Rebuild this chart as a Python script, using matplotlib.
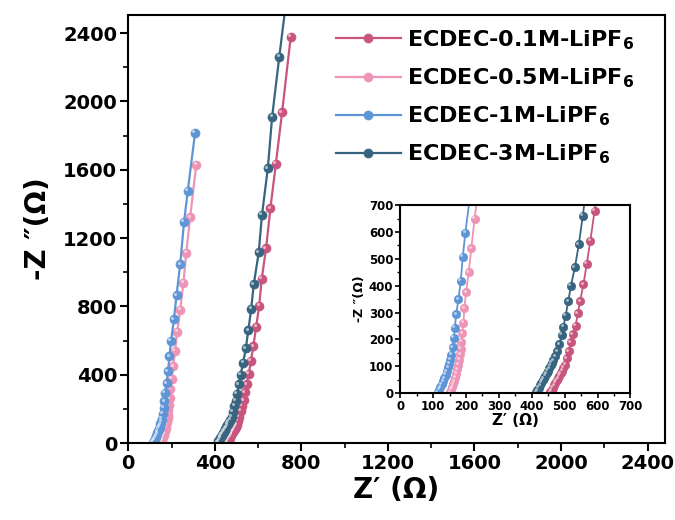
import numpy as np
import matplotlib
matplotlib.use("Agg")
import matplotlib.pyplot as plt
from matplotlib.ticker import MultipleLocator
from matplotlib.transforms import offset_copy

plt.rcParams['font.family'] = ['DejaVu Sans']
plt.rcParams['font.weight'] = 'bold'
plt.rcParams['mathtext.fontset'] = 'custom'
plt.rcParams['mathtext.rm'] = 'DejaVu Sans:bold'
plt.rcParams['mathtext.bf'] = 'DejaVu Sans:bold'

labels = ["ECDEC-0.1M-LiPF$_6$", "ECDEC-0.5M-LiPF$_6$",
          "ECDEC-1M-LiPF$_6$", "ECDEC-3M-LiPF$_6$"]
colors = ["#C8557D", "#EE94B6", "#5E95D6", "#37647F"]

# Z' (ohm), -Z'' (ohm)
x_01 = [456, 460, 464, 468, 472, 476, 480, 484, 488, 492, 496, 502, 507, 512, 519,
        525, 533, 540, 547, 557, 567, 578, 591, 605, 617, 637, 657, 682, 711, 751]
y_01 = [3, 11, 20, 29, 38, 47, 56, 65, 74, 84, 94, 105, 130, 155, 190,
        219, 250, 297, 343, 405, 481, 567, 679, 802, 962, 1140, 1374, 1633, 1936, 2379]

x_05 = [152, 155, 158, 161, 164, 167, 170, 173, 176, 179, 182, 184, 186, 188, 192,
        195, 200, 208, 216, 226, 240, 255, 268, 286, 314]
y_05 = [3, 12, 22, 33, 45, 58, 72, 88, 105, 124, 145, 165, 192, 223, 262,
        316, 375, 450, 539, 650, 778, 939, 1114, 1321, 1627]

x_1 = [114, 118, 122, 126, 130, 134, 138, 142, 146, 149, 152, 155, 159, 163, 166,
       170, 177, 184, 190, 198, 211, 223, 240, 258, 275, 309]
y_1 = [3, 12, 22, 33, 44, 56, 68, 82, 96, 110, 125, 142, 170, 207, 244,
       293, 350, 419, 507, 598, 724, 864, 1046, 1296, 1475, 1817]

x_3 = [413, 417, 421, 425, 429, 433, 437, 441, 445, 449, 453, 457, 461, 465, 471,
       478, 484, 491, 496, 503, 511, 519, 531, 543, 555, 568, 580, 603, 618, 645,
       665, 698, 735]
y_3 = [3, 11, 20, 29, 38, 47, 56, 65, 74, 83, 93, 103, 113, 123, 137,
       155, 182, 217, 248, 289, 343, 400, 468, 554, 660, 784, 929, 1116, 1335, 1608,
       1910, 2261, 2640]

series = [(x_01, y_01), (x_05, y_05), (x_1, y_1), (x_3, y_3)]

fig = plt.figure(figsize=(6.75, 5.2), dpi=100)
ax = fig.add_axes([0.19, 0.148, 0.795, 0.823])
ins = fig.add_axes([0.593, 0.244, 0.341, 0.3615])


def draw(a, ms, lw):
    hl = offset_copy(a.transData, fig=fig, x=-ms * 0.18, y=ms * 0.18, units='points')
    for (xs, ys), c, lab in zip(series, colors, labels):
        a.plot(xs, ys, '-o', color=c, lw=lw, ms=ms, mfc=c, mec=c, mew=0.5, label=lab)
        a.plot(xs, ys, 'o', color='white', ms=ms * 0.35, mew=0, alpha=0.55,
               transform=hl)


draw(ax, 6.5, 1.6)
draw(ins, 6, 1.3)

for a in (ax, ins):
    for s in a.spines.values():
        s.set_linewidth(1.5)

ax.set_xlim(0, 2480)
ax.set_ylim(0, 2505)
ax.xaxis.set_major_locator(MultipleLocator(400))
ax.xaxis.set_minor_locator(MultipleLocator(200))
ax.yaxis.set_major_locator(MultipleLocator(400))
ax.yaxis.set_minor_locator(MultipleLocator(200))
ax.tick_params(which='major', direction='out', length=6, width=1.5, labelsize=14, pad=2)
ax.tick_params(which='minor', direction='out', length=3.5, width=1.2)
ax.set_xlabel("Z\u2032 (\u03a9)", fontsize=20, fontweight='bold', labelpad=2)
ax.set_ylabel("-Z \u2033(\u03a9)", fontsize=20, fontweight='bold', labelpad=8)

ins.set_xlim(0, 700)
ins.set_ylim(0, 700)
ins.xaxis.set_major_locator(MultipleLocator(100))
ins.xaxis.set_minor_locator(MultipleLocator(50))
ins.yaxis.set_major_locator(MultipleLocator(100))
ins.yaxis.set_minor_locator(MultipleLocator(50))
ins.tick_params(which='major', direction='out', length=3.5, width=1.2, labelsize=8.5, pad=1.5)
ins.tick_params(which='minor', direction='out', length=2, width=1)
ins.set_xlabel("Z\u2032 (\u03a9)", fontsize=11, fontweight='bold', labelpad=0)
ins.set_ylabel("-Z \u2033(\u03a9)", fontsize=9, fontweight='bold', labelpad=2)

ax.legend(loc='upper left', bbox_to_anchor=(0.498, 0.946),
          bbox_transform=fig.transFigure, frameon=False, fontsize=16,
          handlelength=2.9, handletextpad=0.3, labelspacing=0.66,
          borderpad=0, borderaxespad=0)

fig.savefig("out.png", dpi=100)
